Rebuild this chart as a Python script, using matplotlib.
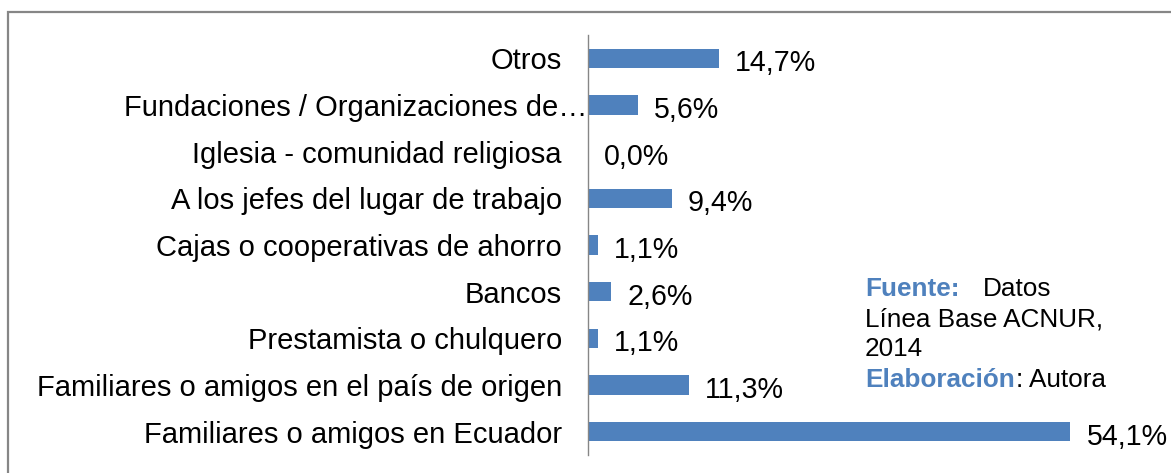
import matplotlib
matplotlib.use("Agg")
import matplotlib.pyplot as plt
from matplotlib.patches import Rectangle

plt.rcParams['font.family'] = ['Liberation Sans', 'DejaVu Sans']

categories = [
    "Familiares o amigos en Ecuador",
    "Familiares o amigos en el país de origen",
    "Prestamista o chulquero",
    "Bancos",
    "Cajas o cooperativas de ahorro",
    "A los jefes del lugar de trabajo",
    "Iglesia - comunidad religiosa",
    "Fundaciones / Organizaciones de…",
    "Otros",
]
values = [54.1, 11.3, 1.1, 2.6, 1.1, 9.4, 0.0, 5.6, 14.7]
value_labels = ["54,1%", "11,3%", "1,1%", "2,6%", "1,1%", "9,4%", "0,0%", "5,6%", "14,7%"]

W, H = 1171, 473
fig = plt.figure(figsize=(W / 100, H / 100), dpi=100)
fig.patch.set_facecolor("white")

# outer chart border (left & top visible)
fig.add_artist(Rectangle((8 / W, -0.1), 2.0, 1 - 12 / H + 0.1, transform=fig.transFigure,
                         fill=False, edgecolor="#868686", linewidth=1.6))

ax = fig.add_axes([588 / W, 1 - 455 / H, (1123 - 588) / W, (455 - 35) / H])
bar_color = "#4F81BD"
ypos = list(range(len(categories)))
ax.barh(ypos, values, height=0.41, color=bar_color)
ax.set_xlim(0, 60)
ax.set_ylim(-0.5, len(categories) - 0.5)

for s in ["top", "right", "bottom"]:
    ax.spines[s].set_visible(False)
ax.spines["left"].set_color("#868686")
ax.spines["left"].set_linewidth(1.0)
ax.set_xticks([])
ax.set_yticks([])
ax.patch.set_alpha(0)

fs = 21
fsv = 20.6
for i, (c, v, lab) in enumerate(zip(categories, values, value_labels)):
    extra = 25 if c.endswith("…") else 0
    ax.annotate(c, xy=(0, i), xycoords=("axes fraction", "data"),
                xytext=(-26 + extra, -3), textcoords="offset pixels",
                ha="right", va="center", fontsize=fs, color="#000000")
    ax.annotate(lab, xy=(v, i), xycoords="data",
                xytext=(16, -5), textcoords="offset pixels",
                ha="left", va="center", fontsize=fsv, color="#000000",
                annotation_clip=False)

# source note
blue = "#4F81BD"
fs2 = 18.8
def px(x, y):
    return x / W, 1 - y / H

fig.text(*px(865, 296), "Fuente:", color=blue, fontsize=fs2, fontweight="bold", va="baseline")
fig.text(*px(983, 296), "Datos", color="#000000", fontsize=fs2, va="baseline")
fig.text(*px(865, 326), "Línea Base ACNUR,", color="#000000", fontsize=fs2, va="baseline")
fig.text(*px(865, 356), "2014", color="#000000", fontsize=fs2, va="baseline")
t4 = fig.text(*px(865, 387), "Elaboración", color=blue, fontsize=fs2, fontweight="bold", va="baseline")
ax.annotate(": Autora", xy=(1.0, 0.0), xycoords=t4, xytext=(1, 0), textcoords="offset pixels",
            va="bottom", ha="left", fontsize=fs2, color="#000000", annotation_clip=False)

fig.savefig("out.png", dpi=100, facecolor="white")
